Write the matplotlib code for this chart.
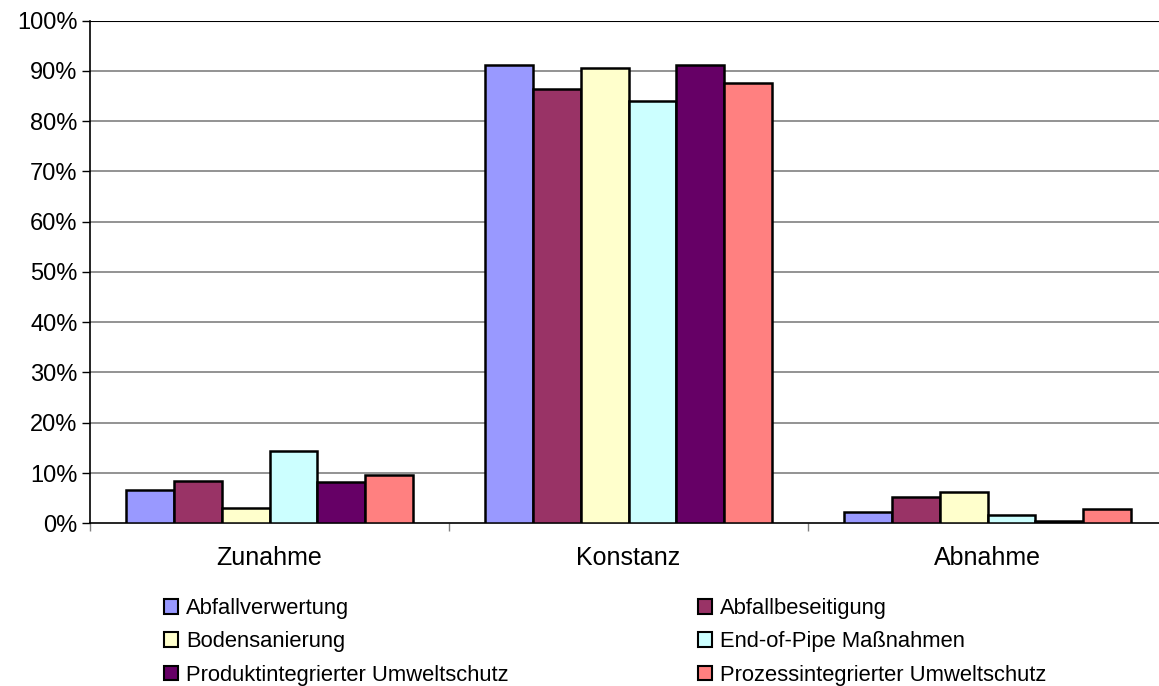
import matplotlib
matplotlib.use("Agg")
import matplotlib.pyplot as plt
from matplotlib.patches import Patch
from matplotlib.ticker import FixedLocator, FuncFormatter
import numpy as np

plt.rcParams['font.family'] = ['Liberation Sans', 'DejaVu Sans']

categories = ["Zunahme", "Konstanz", "Abnahme"]
series = ["Abfallverwertung", "Abfallbeseitigung", "Bodensanierung",
          "End-of-Pipe Maßnahmen", "Produktintegrierter Umweltschutz",
          "Prozessintegrierter Umweltschutz"]
abfallverwertung = [6.6, 91.2, 2.3]
abfallbeseitigung = [8.4, 86.3, 5.3]
bodensanierung = [3.0, 90.6, 6.3]
end_of_pipe = [14.3, 84.0, 1.6]
produktintegriert = [8.3, 91.2, 0.5]
prozessintegriert = [9.6, 87.5, 2.9]
values = [abfallverwertung, abfallbeseitigung, bodensanierung,
          end_of_pipe, produktintegriert, prozessintegriert]
colors = ["#9999FF", "#993366", "#FFFFCC", "#CCFFFF", "#660066", "#FF8080"]
yticks = list(range(0, 101, 10))

W, H = 1159, 686
fig = plt.figure(figsize=(W / 100, H / 100), dpi=100)
left, right, top, bottom = 90, 1167, 20.5, 523.3
ax = fig.add_axes([left / W, 1 - bottom / H, (right - left) / W, (bottom - top) / H])

x = np.arange(len(categories))
bw = 0.8 / len(series)
handles = []
for i, (name, vals, c) in enumerate(zip(series, values, colors)):
    pos = x - 0.4 + bw * (i + 0.5)
    ax.bar(pos, vals, width=bw, color=c, edgecolor="black", linewidth=1.8, zorder=3)
    handles.append(Patch(facecolor=c, edgecolor="black", linewidth=1.5, label=name))

ax.set_xlim(-0.5, len(categories) - 0.5)
ax.set_ylim(0, 100)
for y in yticks[1:-1]:
    ax.axhline(y, color="#808080", linewidth=1.2, zorder=1)
ax.axhline(100, color="black", linewidth=1.5, zorder=1)

ax.set_yticks(yticks)
ax.yaxis.set_major_formatter(FuncFormatter(lambda v, p: f"{int(v)}%"))
ax.set_xticks(x)
ax.set_xticklabels(categories, fontsize=18)
ax.xaxis.set_minor_locator(FixedLocator(np.arange(-0.5, len(categories), 1.0)))
ax.tick_params(axis="x", which="major", length=0, pad=16)
ax.tick_params(axis="x", which="minor", length=6, width=1, color="#808080", direction="out")
ax.tick_params(axis="y", which="major", length=6, width=1, labelsize=17, pad=3, direction="out")
for s in ["top", "right"]:
    ax.spines[s].set_visible(False)
ax.spines["left"].set_linewidth(1.2)
ax.spines["bottom"].set_linewidth(1.2)

order = [0, 2, 4, 1, 3, 5]
fig.legend([handles[i] for i in order], [series[i] for i in order],
           loc="upper left", bbox_to_anchor=(164 / W, 1 - 598 / H), ncol=2,
           frameon=False, fontsize=15.8, handlelength=0.64, handleheight=0.64,
           handletextpad=0.36, labelspacing=0.56, columnspacing=8.63, borderpad=0,
           borderaxespad=0)

fig.savefig("out.png", dpi=100)
